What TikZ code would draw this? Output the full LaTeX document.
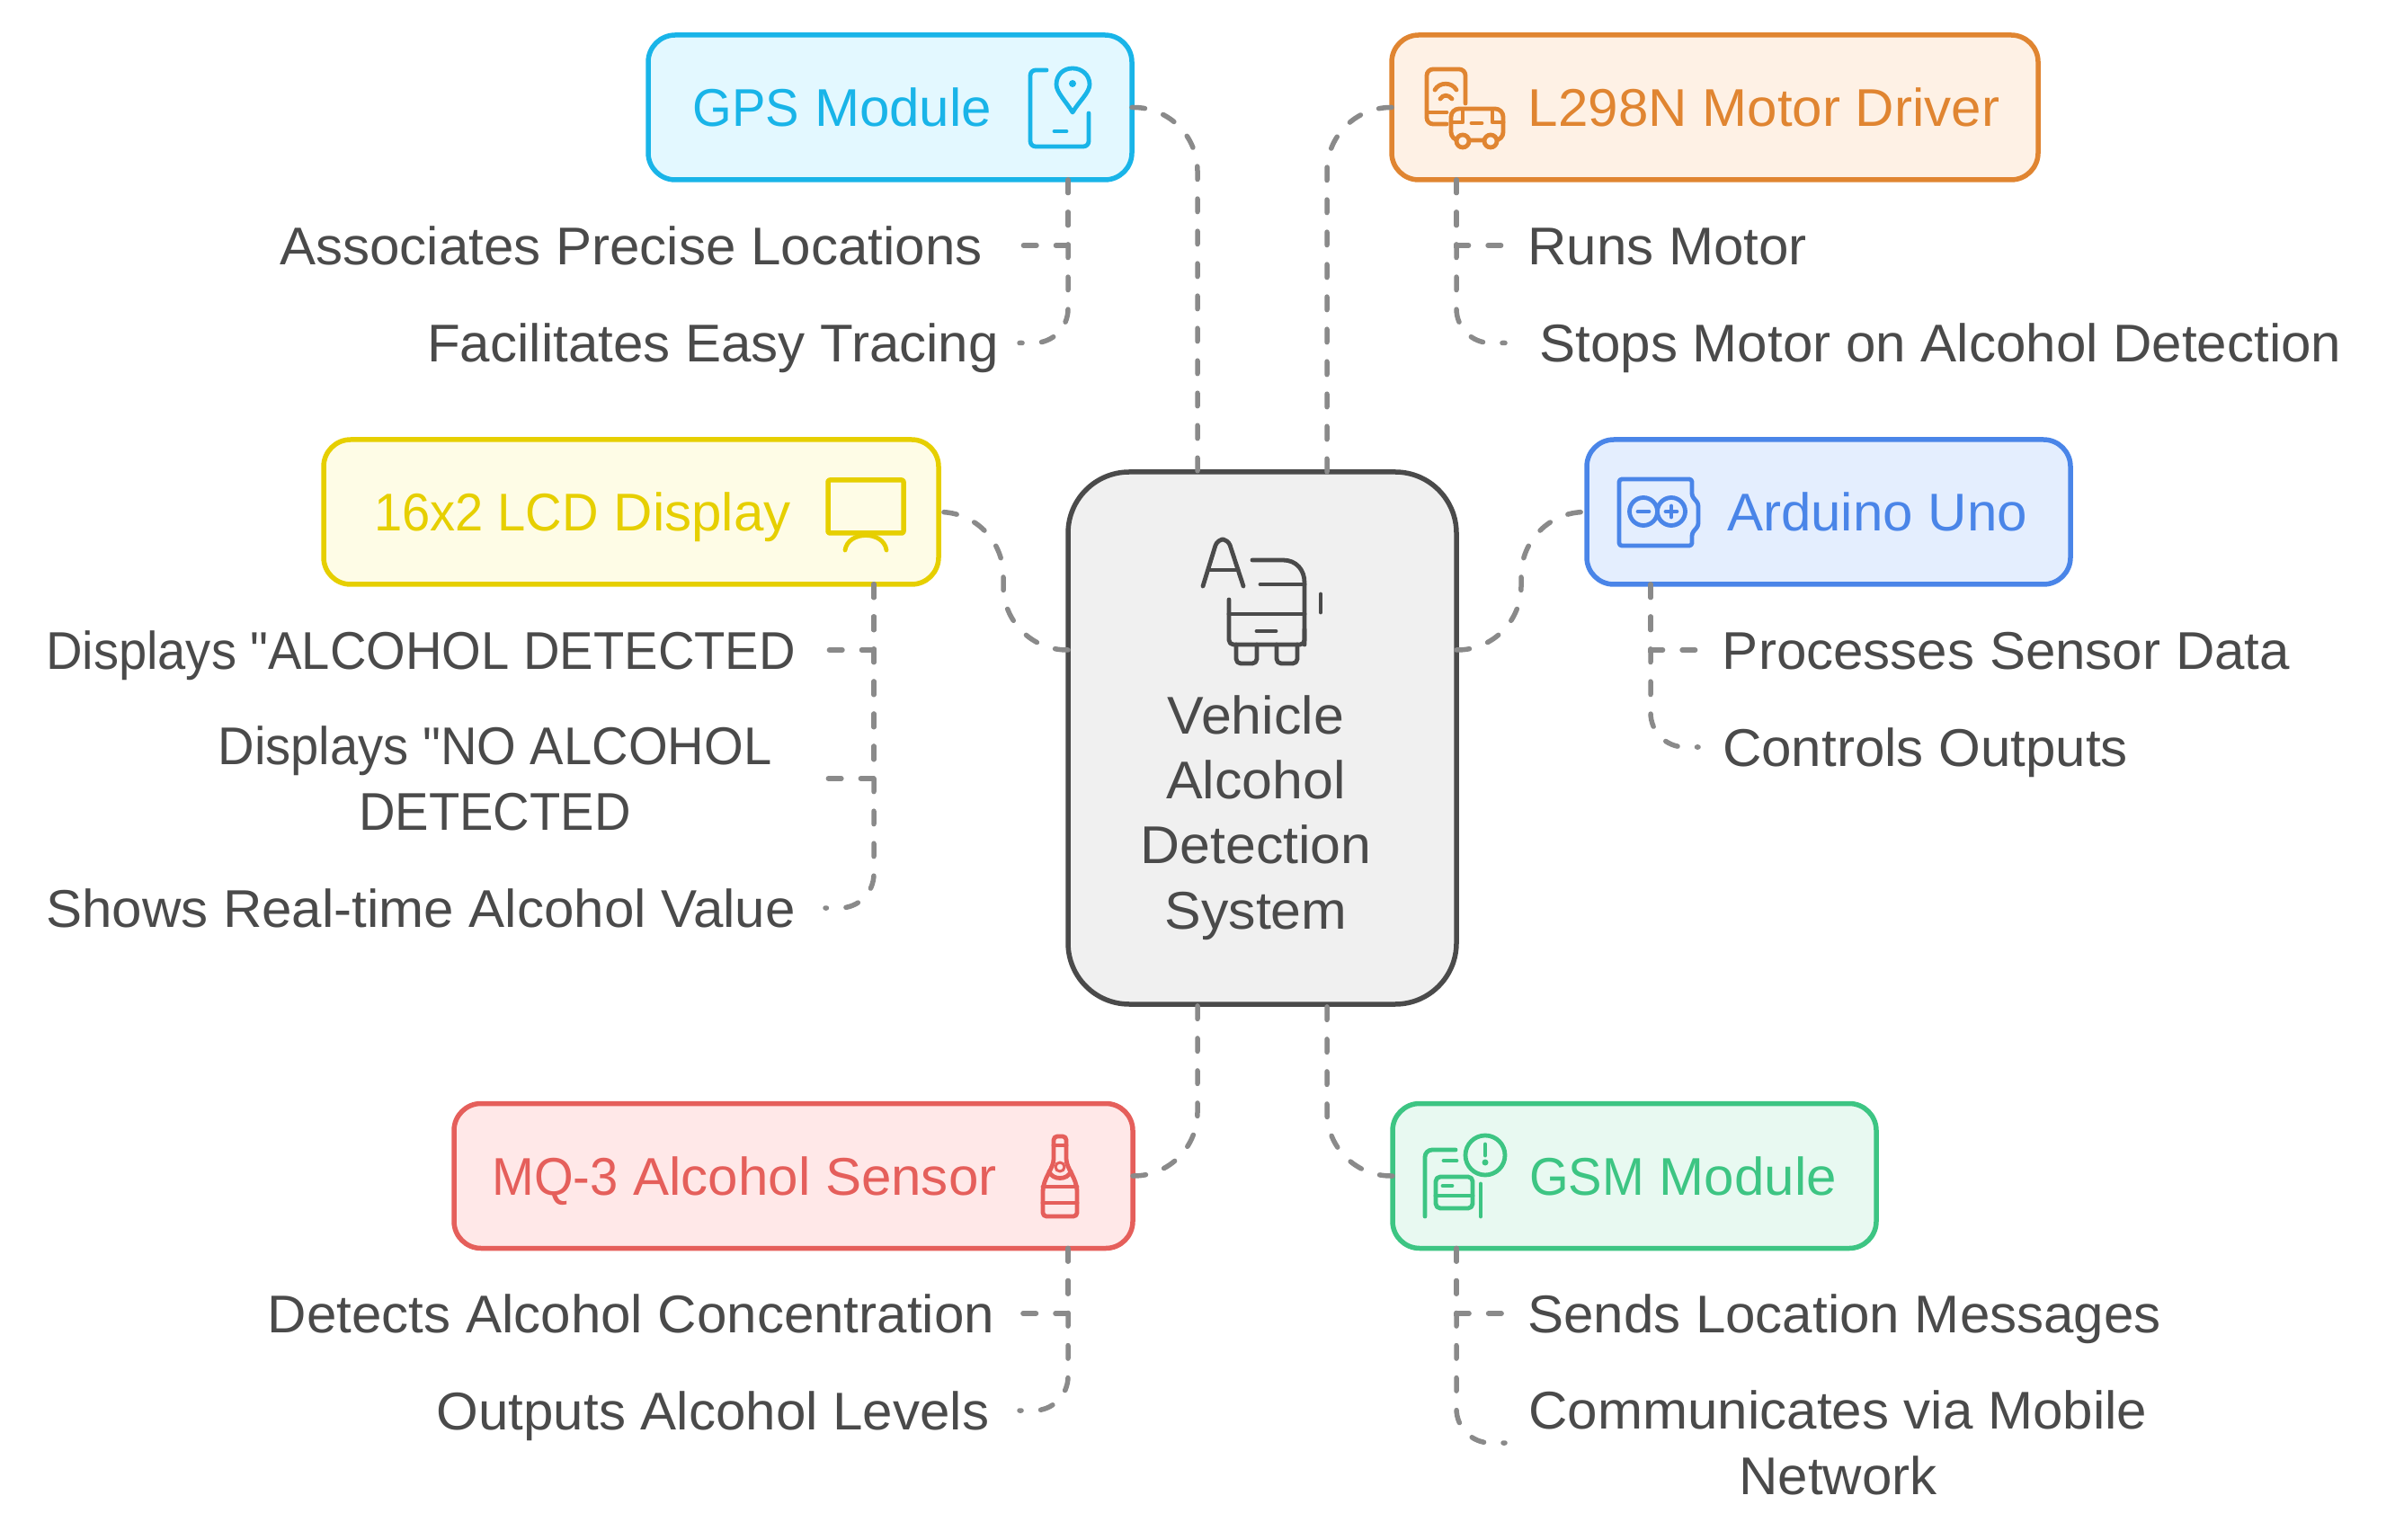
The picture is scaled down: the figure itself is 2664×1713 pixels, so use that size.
\documentclass[tikz,border=0pt]{standalone}
\usepackage{fontspec}
\setmainfont[FakeStretch=1.017]{Liberation Sans}
\newfontfamily\capfont[FakeStretch=.95]{Liberation Sans}
\newfontfamily\hubfont[FakeStretch=1.03]{Liberation Sans}
\definecolor{gpsline}{HTML}{19B4E8}\definecolor{gpsfill}{HTML}{E3F8FF}
\definecolor{motline}{HTML}{E08531}\definecolor{motfill}{HTML}{FEF1E5}
\definecolor{lcdline}{HTML}{E6CF00}\definecolor{lcdfill}{HTML}{FEFCE6}
\definecolor{ardline}{HTML}{4A85E8}\definecolor{ardfill}{HTML}{E4EEFE}
\definecolor{mqsline}{HTML}{E55F5B}\definecolor{mqsfill}{HTML}{FFE8E8}
\definecolor{gsmline}{HTML}{3DC583}\definecolor{gsmfill}{HTML}{E8F9F1}
\definecolor{hubline}{HTML}{4A4A4A}\definecolor{hubfill}{HTML}{F0F0F0}
\definecolor{linkgrey}{HTML}{8A8A8A}
\tikzset{
  card/.style={draw=#1line,fill=#1fill,line width=.055cm,rounded corners=.3cm,
    outer sep=0pt,inner sep=0pt},
  leaf/.style={text=hubline,align=center,inner sep=0pt,text height=.42cm,text depth=0pt},
  leaftwo/.style={leaf,text height=1.14cm},
  link/.style={draw=linkgrey,line width=.055cm,line cap=round,
    dash pattern=on .145cm off .215cm},
  icon/.style={draw=#1,line width=.048cm,line cap=round,line join=round},
}
\begin{document}
\begin{tikzpicture}[x=.01cm,y=-.01cm,font=\fontsize{16.8}{20.6}\selectfont]
  \useasboundingbox (0,0) rectangle (2664,1713);
  % centre
  \node[card=hub,rounded corners=.68cm,minimum width=432*.01cm,minimum height=592*.01cm]
    (hub) at (1404,821) {};
  \node[text=hubline,align=center,inner sep=0pt,font=\fontsize{16.8}{20.6}\hubfont] (hublab) at (1397,909.5)
    {Vehicle\\Alcohol\\Detection\\System};
  % six modules
  \foreach \nm/\x/\y/\w/\tx/\lab in {
    gps/990/119.5/538/937/{\capfont GPS} Module,
    mot/1907.5/119.5/719/1962/L298N Motor Driver,
    lcd/702/569.5/684/648/{\capfont 16x2 LCD} Display,
    ard/2034/569.5/538/2088/Arduino Uno,
    mqs/882.5/1308/755/828/{\capfont MQ-3} Alcohol Sensor,
    gsm/1818/1308/538/1872/{\capfont GSM} Module}
  {
    \node[card=\nm,minimum width=\w*.01cm,minimum height=161*.01cm] (\nm) at (\x,\y) {};
    \node[text=\nm line,inner sep=0pt,text height=.42cm,text depth=0pt] (\nm lab) at (\tx,\y) {\lab};
  }
  % leaves
  \foreach \nm/\x/\y/\lab in {
    gpsa/702/273/Associates Precise Locations,
    gpsb/793/381.5/Facilitates Easy Tracing,
    mota/1854.5/273/Runs Motor,
    motb/2158.5/381.5/Stops Motor on Alcohol Detection,
    lcda/468/723/{\capfont Displays "ALCOHOL DETECTED},
    lcdc/468/1010/Shows Real-time Alcohol Value,
    arda/2231.5/723/Processes Sensor Data,
    ardb/2141.5/831/Controls Outputs,
    mqsa/702/1461/Detects Alcohol Concentration,
    mqsb/793/1569/Outputs Alcohol Levels,
    gsma/2051.5/1461/Sends Location Messages}
    \node[leaf] (\nm) at (\x,\y) {\lab};
  \node[leaftwo,font=\fontsize{16.8}{20.6}\capfont] (lcdb) at (550.5,866) {Displays "NO ALCOHOL\\DETECTED};
  \node[leaftwo] (gsmb) at (2044.5,1605) {Communicates via Mobile\\Network};
  % links module to leaf
  \foreach \nm/\lf/\tx/\ex in {gps/gpsa/1188/1134,mot/mota/1620/1674,lcd/lcda/972/918,
      lcd/lcdb/972/918,ard/arda/1836/1889,mqs/mqsa/1188/1134,gsm/gsma/1620/1674}
    \draw[link] (\nm.south -| \tx,0) |- (\lf.east -| \ex,0);
  \foreach \nm/\lf/\tx/\ex in {gps/gpsb/1188/1134,mot/motb/1620/1674,lcd/lcdc/972/918,
      ard/ardb/1836/1889,mqs/mqsb/1188/1134,gsm/gsmb/1620/1674}
    \draw[link,rounded corners=.38cm] (\nm.south -| \tx,0) |- (\lf.east -| \ex,0);
  % links to centre
  \draw[link,rounded corners=.71cm] (gps.east) -| (hub.north -| 1332,0);
  \draw[link,rounded corners=.71cm] (mot.west) -| (hub.north -| 1476,0);
  \draw[link,rounded corners=.71cm] (mqs.east) -| (hub.south -| 1332,0);
  \draw[link,rounded corners=.71cm] (gsm.west) -| (hub.south -| 1476,0);
  \coordinate (lcdj) at (1116,646);
  \coordinate (ardj) at (1692,646);
  \draw[link,rounded corners=.71cm] (hub.west |- 0,723) -| (lcd.east -| lcdj) -- (lcd.east);
  \draw[link,rounded corners=.71cm] (hub.east |- 0,723) -| (ard.west -| ardj) -- (ard.west);
  % centre icon
  \draw[icon=hubline,rounded corners=.07cm] (1338,652) -- (1354,600) -- (1366,600) -- (1383,652);
  \draw[icon=hubline] (1345,634) -- (1377,634);
  \draw[icon=hubline] (1393,623) -- (1427,623) .. controls (1442,623) and (1451,634) .. (1451,648) -- (1451,717);
  \draw[icon=hubline,rounded corners=.05cm] (1451,700) -- (1451,717) -- (1367,717) -- (1367,667);
  \draw[icon=hubline] (1402,650) -- (1451,650) (1367,683) -- (1451,683) (1398,702) -- (1419,702) (1469,661) -- (1469,681);
  \draw[icon=hubline,rounded corners=.05cm] (1375,717) -- (1375,738) -- (1398,738) -- (1398,717);
  \draw[icon=hubline,rounded corners=.05cm] (1420,717) -- (1420,738) -- (1443,738) -- (1443,717);
  % gps icon
  \draw[icon=gpsline,rounded corners=.06cm] (1164,78) -- (1146,78) -- (1146,163) -- (1211,163) -- (1211,126);
  \draw[icon=gpsline] (1173,146) -- (1186,146);
  \draw[icon=gpsline] (1193,125) .. controls (1186,113) and (1175,103) .. (1175,94)
    .. controls (1175,83) and (1183,76) .. (1193,76) .. controls (1203,76) and (1212,83) .. (1212,94)
    .. controls (1212,103) and (1200,113) .. (1193,125) -- cycle;
  \fill[gpsline] (1193,93) circle (4);
  % motor icon
  \draw[icon=motline,rounded corners=.07cm] (1630,115) -- (1630,77) -- (1587,77) -- (1587,138) -- (1609,138);
  \draw[icon=motline] (1590,125) -- (1609,125);
  \draw[icon=motline] (1596,100) .. controls (1601,91) and (1615,91) .. (1620,100);
  \draw[icon=motline] (1602,110) .. controls (1605,105) and (1611,105) .. (1615,110);
  \draw[icon=motline,rounded corners=.09cm] (1614,121) rectangle (1672,156);
  \draw[icon=motline] (1614,136) -- (1627,136) -- (1627,122) (1672,136) -- (1660,136) -- (1660,122) (1637,137) -- (1648,137);
  \foreach \wx in {1627,1658}
    \draw[icon=motline,fill=motfill] (\wx,157) circle (7);
  % lcd icon
  \draw[icon=lcdline,line width=.055cm,rounded corners=.02cm] (921,534) rectangle (1005,593);
  \draw[icon=lcdline] (940,612) .. controls (943,590) and (983,590) .. (986,612);
  % arduino icon
  \draw[icon=ardline,rounded corners=.03cm] (1801,533) -- (1882,533) -- (1882,552) -- (1889,560) -- (1889,585) -- (1882,593) -- (1882,607) -- (1801,607) -- cycle;
  \draw[icon=ardline] (1828,569) circle (15.5) (1859,569) circle (15.5);
  \draw[icon=ardline] (1822,569) -- (1834,569) (1853,569) -- (1865,569) (1859,563) -- (1859,575);
  % sensor icon
  \draw[icon=mqsline,rounded corners=.04cm] (1172,1264) -- (1172,1285) .. controls (1172,1300) and (1160,1310) .. (1160,1330)
    -- (1160,1353) -- (1198,1353) -- (1198,1330) .. controls (1198,1310) and (1186,1300) .. (1186,1285) -- (1186,1264) -- cycle;
  \draw[icon=mqsline] (1172,1274) -- (1186,1274) (1160,1320) -- (1198,1320) (1160,1338) -- (1198,1338);
  \draw[icon=mqsline,line width=.03cm] (1179,1298) circle (5);
  \draw[icon=mqsline] (1167,1303) .. controls (1170,1313) and (1188,1313) .. (1191,1303);
  % gsm icon
  \draw[icon=gsmline,rounded corners=.08cm] (1619,1279) -- (1585,1279) -- (1585,1353);
  \draw[icon=gsmline] (1606,1291) -- (1620,1291) (1605,1319) -- (1615,1319) (1647,1317) -- (1647,1353);
  \draw[icon=gsmline] (1652,1285) circle (22);
  \draw[icon=gsmline] (1652,1273) -- (1652,1285);
  \fill[gsmline] (1652,1293) circle (3.5);
  \draw[icon=gsmline,rounded corners=.05cm] (1597,1309) rectangle (1638,1344);
  \draw[icon=gsmline] (1597,1330) -- (1638,1330);
\end{tikzpicture}
\end{document}
